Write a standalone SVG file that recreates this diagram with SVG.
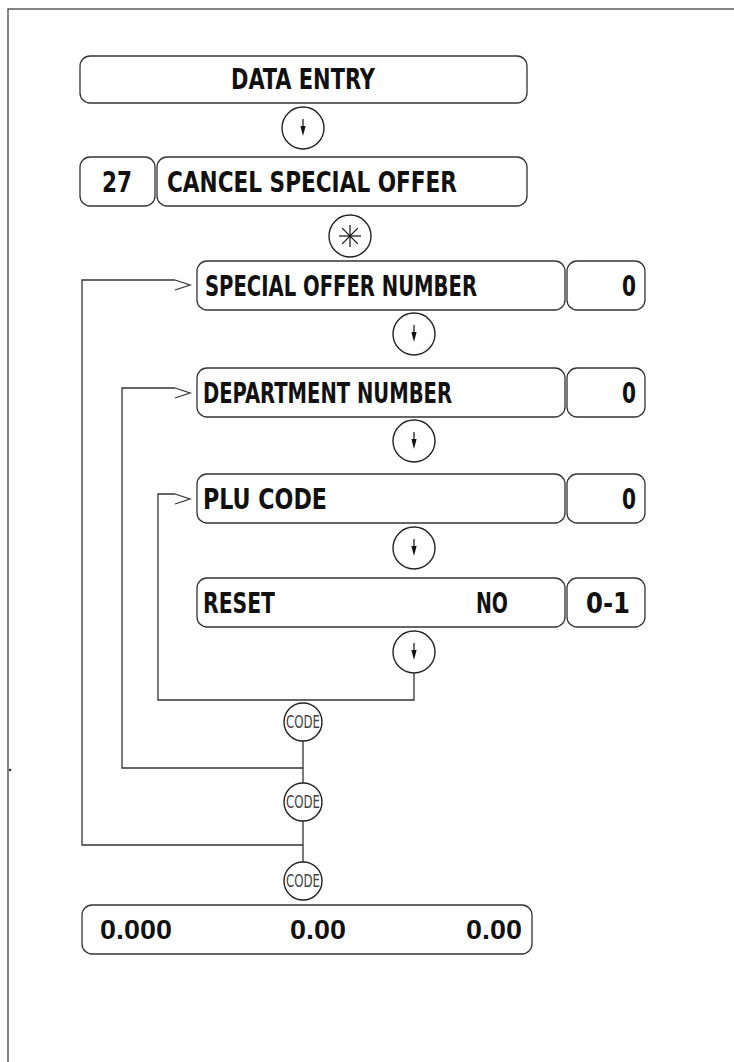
<svg xmlns="http://www.w3.org/2000/svg" width="734" height="1062" viewBox="0 0 734 1062">
<style>
.box{fill:#fff;stroke:#333;stroke-width:1.3}
.t{font-family:"Liberation Sans Narrow","DejaVu Sans Condensed","Liberation Sans",sans-serif;font-weight:bold;font-size:28px;fill:#111}
.n{font-family:"Liberation Sans","DejaVu Sans",sans-serif;font-weight:bold;font-size:27px;fill:#111}
.key{fill:#fff;stroke:#222;stroke-width:1.4}
.code{font-family:"Liberation Sans Narrow","DejaVu Sans Condensed","Open Sans",sans-serif;font-size:17px;fill:#444}
.ln{fill:none;stroke:#333;stroke-width:1.3}
</style>
<defs>
<g id="down">
<line x1="0" y1="-9" x2="0" y2="0" stroke="#111" stroke-width="1.2"/>
<polygon points="-2.6,-2 2.6,-2 0,8" fill="#111"/>
</g>
</defs>
<rect x="8" y="9" width="740" height="1070" fill="none" stroke="#444" stroke-width="1.3"/>
<circle cx="10" cy="770" r="1.2" fill="#222"/>

<g id="connectors">
<path class="ln" d="M414,673 V700 H158 V494 H175"/>
<path class="ln" d="M175,494 L190,499 L175,504"/>
<path class="ln" d="M303,741 V783 M303,768 H122 V388 H175"/>
<path class="ln" d="M175,388 L190,393 L175,398"/>
<path class="ln" d="M303,821 V862 M303,845 H82 V280 H175"/>
<path class="ln" d="M175,280 L190,285 L175,290"/>
</g>

<g id="data-entry">
<rect class="box" x="80" y="56" width="447" height="47" rx="10"/>
<text class="t" x="303" y="89" text-anchor="middle" textLength="144" lengthAdjust="spacingAndGlyphs">DATA ENTRY</text>
</g>
<g id="key-down-1"><circle class="key" cx="303" cy="128" r="21"/><use href="#down" x="303" y="128"/></g>

<g id="cancel-special-offer">
<rect class="box" x="80" y="157" width="75" height="49" rx="10"/>
<text class="t" x="117" y="192" text-anchor="middle" textLength="30" lengthAdjust="spacingAndGlyphs">27</text>
<rect class="box" x="157" y="157" width="370" height="49" rx="10"/>
<text class="t" x="167" y="192" textLength="290" lengthAdjust="spacingAndGlyphs">CANCEL SPECIAL OFFER</text>
</g>
<g id="key-star">
<circle class="key" cx="350" cy="236" r="21"/>
<g stroke="#111" stroke-width="1.2">
<line x1="339" y1="236" x2="361" y2="236"/>
<line x1="350" y1="225" x2="350" y2="247"/>
<line x1="342.2" y1="228.2" x2="357.8" y2="243.8"/>
<line x1="342.2" y1="243.8" x2="357.8" y2="228.2"/>
</g>
</g>

<g id="special-offer-number">
<rect class="box" x="197" y="261" width="368" height="49" rx="10"/>
<text class="t" x="205" y="296" textLength="272" lengthAdjust="spacingAndGlyphs">SPECIAL OFFER NUMBER</text>
<rect class="box" x="567" y="261" width="78" height="49" rx="10"/>
<text class="t" x="636" y="296" text-anchor="end" textLength="14" lengthAdjust="spacingAndGlyphs">0</text>
</g>
<g id="key-down-2"><circle class="key" cx="414" cy="334" r="21"/><use href="#down" x="414" y="334"/></g>

<g id="department-number">
<rect class="box" x="197" y="368" width="368" height="49" rx="10"/>
<text class="t" x="203" y="403" textLength="249" lengthAdjust="spacingAndGlyphs">DEPARTMENT NUMBER</text>
<rect class="box" x="567" y="368" width="78" height="49" rx="10"/>
<text class="t" x="636" y="403" text-anchor="end" textLength="14" lengthAdjust="spacingAndGlyphs">0</text>
</g>
<g id="key-down-3"><circle class="key" cx="414" cy="441" r="21"/><use href="#down" x="414" y="441"/></g>

<g id="plu-code">
<rect class="box" x="197" y="474" width="368" height="49" rx="10"/>
<text class="t" x="203" y="509" textLength="124" lengthAdjust="spacingAndGlyphs">PLU CODE</text>
<rect class="box" x="567" y="474" width="78" height="49" rx="10"/>
<text class="t" x="636" y="509" text-anchor="end" textLength="14" lengthAdjust="spacingAndGlyphs">0</text>
</g>
<g id="key-down-4"><circle class="key" cx="414" cy="548" r="21"/><use href="#down" x="414" y="548"/></g>

<g id="reset">
<rect class="box" x="197" y="578" width="368" height="49" rx="10"/>
<text class="t" x="203" y="613" textLength="72" lengthAdjust="spacingAndGlyphs">RESET</text>
<text class="t" x="508" y="613" text-anchor="end" textLength="32" lengthAdjust="spacingAndGlyphs">NO</text>
<rect class="box" x="567" y="578" width="78" height="49" rx="10"/>
<text class="t" x="630" y="613" text-anchor="end" textLength="44" lengthAdjust="spacingAndGlyphs">0-1</text>
</g>
<g id="key-down-5"><circle class="key" cx="414" cy="652" r="21"/><use href="#down" x="414" y="652"/></g>

<g id="key-code-1"><circle class="key" cx="303" cy="722" r="19"/><text class="code" x="303" y="728" text-anchor="middle" textLength="34" lengthAdjust="spacingAndGlyphs">CODE</text></g>
<g id="key-code-2"><circle class="key" cx="303" cy="802" r="19"/><text class="code" x="303" y="808" text-anchor="middle" textLength="34" lengthAdjust="spacingAndGlyphs">CODE</text></g>
<g id="key-code-3"><circle class="key" cx="303" cy="881" r="19"/><text class="code" x="303" y="887" text-anchor="middle" textLength="34" lengthAdjust="spacingAndGlyphs">CODE</text></g>

<g id="totals">
<rect class="box" x="82" y="905" width="450" height="49" rx="10"/>
<text class="n" x="100" y="939" textLength="72" lengthAdjust="spacingAndGlyphs">0.000</text>
<text class="n" x="318" y="939" text-anchor="middle" textLength="56" lengthAdjust="spacingAndGlyphs">0.00</text>
<text class="n" x="522" y="939" text-anchor="end" textLength="56" lengthAdjust="spacingAndGlyphs">0.00</text>
</g>
</svg>
